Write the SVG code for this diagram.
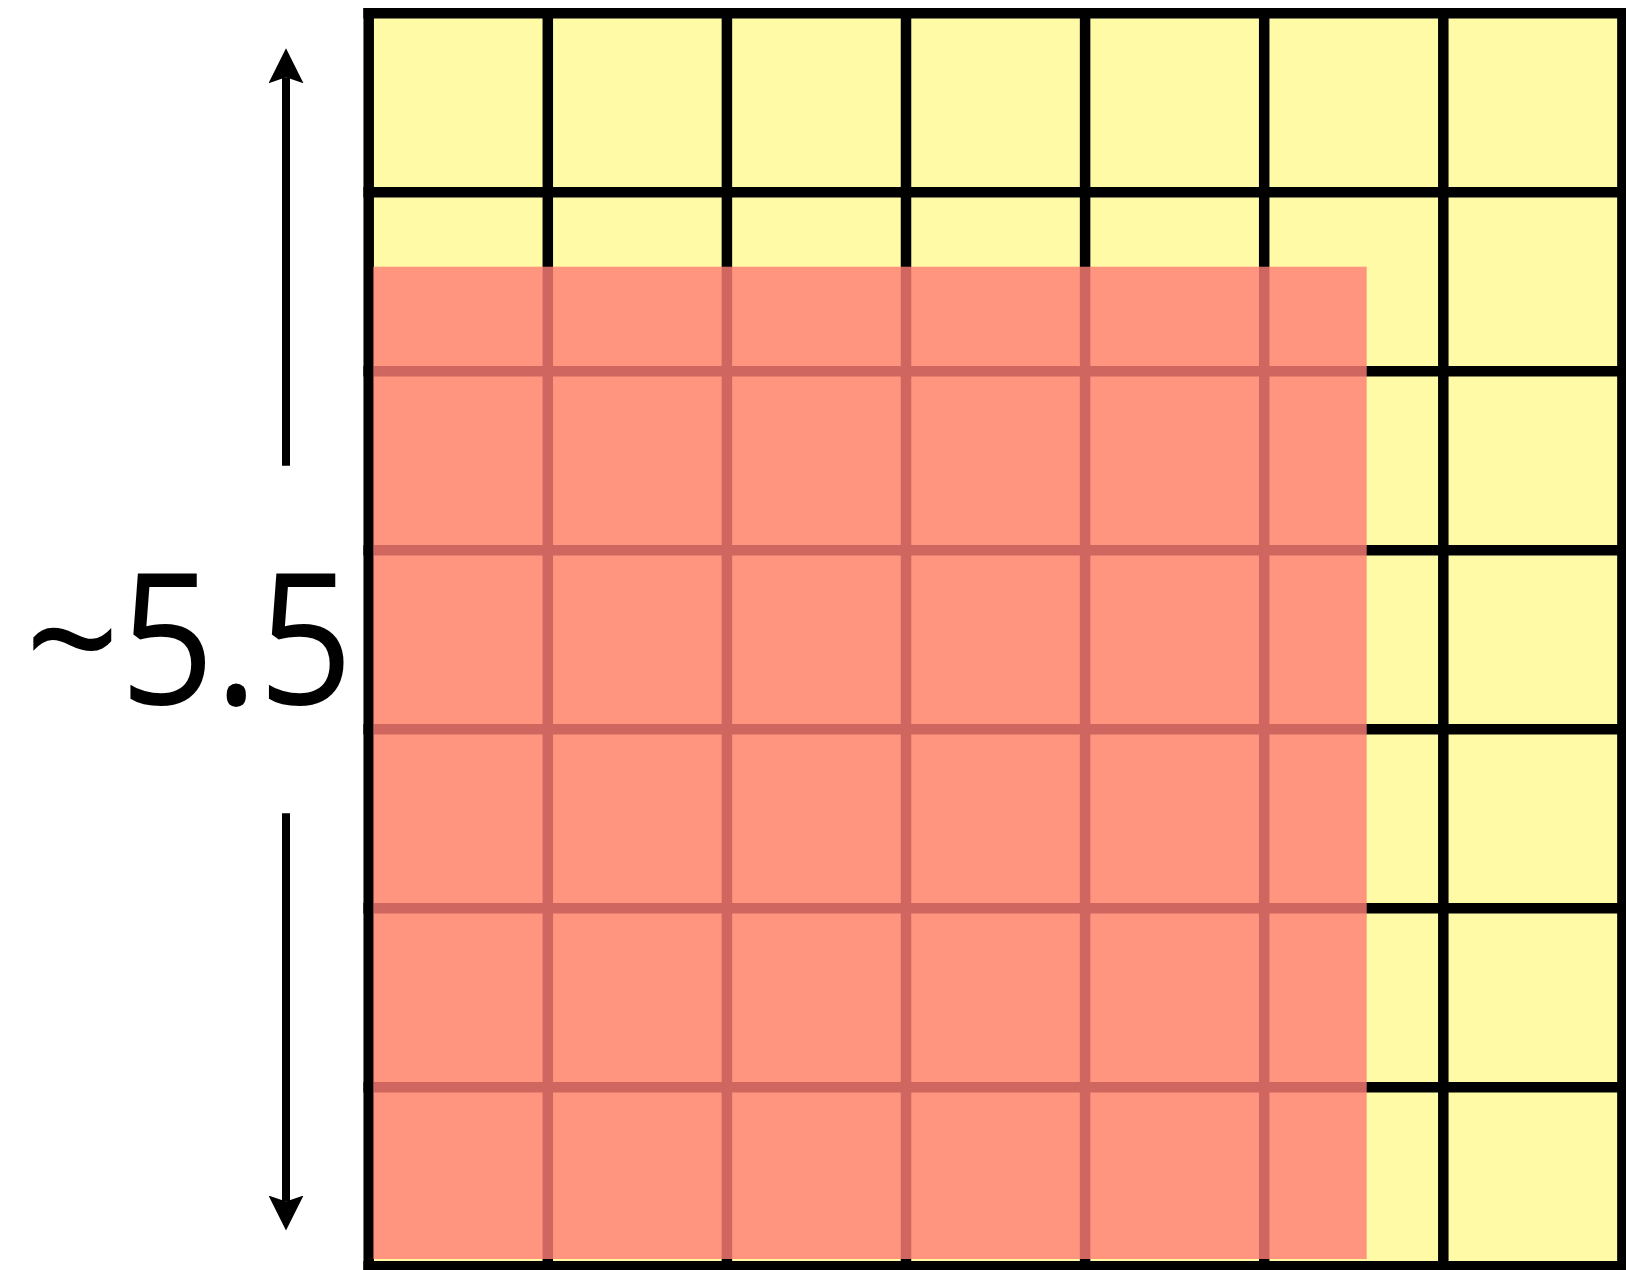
<svg xmlns="http://www.w3.org/2000/svg" width="1626" height="1270" viewBox="0 0 1626 1270">
  <style>
    .grid line { stroke: #000; stroke-width: 10.5; }
    .arrow { stroke: #000; stroke-width: 8; fill: none; }
    .label { font-family: "Open Sans", "Noto Sans", "DejaVu Sans", sans-serif; font-weight: 500; font-style: normal; font-size: 184px; fill: #000; }
  </style>
  <defs>
    <marker id="head" viewBox="0 0 35 35" refX="6" refY="17.5" markerWidth="35" markerHeight="35" markerUnits="userSpaceOnUse" orient="auto">
      <path d="M0,0 L35,17.5 L0,35 L6,17.5 Z" fill="#000"/>
    </marker>
  </defs>
  <rect width="1626" height="1270" fill="#fff"/>
  <g id="board">
    <rect x="368.7" y="13.3" width="1253.7" height="1253" fill="#FFFAA6"/>
    <g class="grid">
      <line x1="368.7" y1="8" x2="368.7" y2="1271.6"/>
      <line x1="547.8" y1="8" x2="547.8" y2="1271.6"/>
      <line x1="726.9" y1="8" x2="726.9" y2="1271.6"/>
      <line x1="906.0" y1="8" x2="906.0" y2="1271.6"/>
      <line x1="1085.1" y1="8" x2="1085.1" y2="1271.6"/>
      <line x1="1264.2" y1="8" x2="1264.2" y2="1271.6"/>
      <line x1="1443.3" y1="8" x2="1443.3" y2="1271.6"/>
      <line x1="1622.4" y1="8" x2="1622.4" y2="1271.6"/>
      <line x1="363.4" y1="13.3" x2="1627.7" y2="13.3"/>
      <line x1="363.4" y1="192.3" x2="1627.7" y2="192.3"/>
      <line x1="363.4" y1="371.3" x2="1627.7" y2="371.3"/>
      <line x1="363.4" y1="550.3" x2="1627.7" y2="550.3"/>
      <line x1="363.4" y1="729.3" x2="1627.7" y2="729.3"/>
      <line x1="363.4" y1="908.3" x2="1627.7" y2="908.3"/>
      <line x1="363.4" y1="1087.3" x2="1627.7" y2="1087.3"/>
      <line x1="363.4" y1="1266.3" x2="1627.7" y2="1266.3"/>
    </g>
  </g>
  <g id="overlay">
    <rect x="373.3" y="266.7" width="993.4" height="992.3" fill="#FF7E76" fill-opacity="0.81"/>
  </g>
  <g id="connectors">
    <line class="arrow" x1="286" y1="465.7" x2="286" y2="77.3" marker-end="url(#head)"/>
    <line class="arrow" x1="286" y1="813.3" x2="286" y2="1201.5" marker-end="url(#head)"/>
  </g>
  <g id="label">
    <text class="label" x="353" y="704" text-anchor="end" textLength="328" lengthAdjust="spacingAndGlyphs">~5.5</text>
  </g>
</svg>
